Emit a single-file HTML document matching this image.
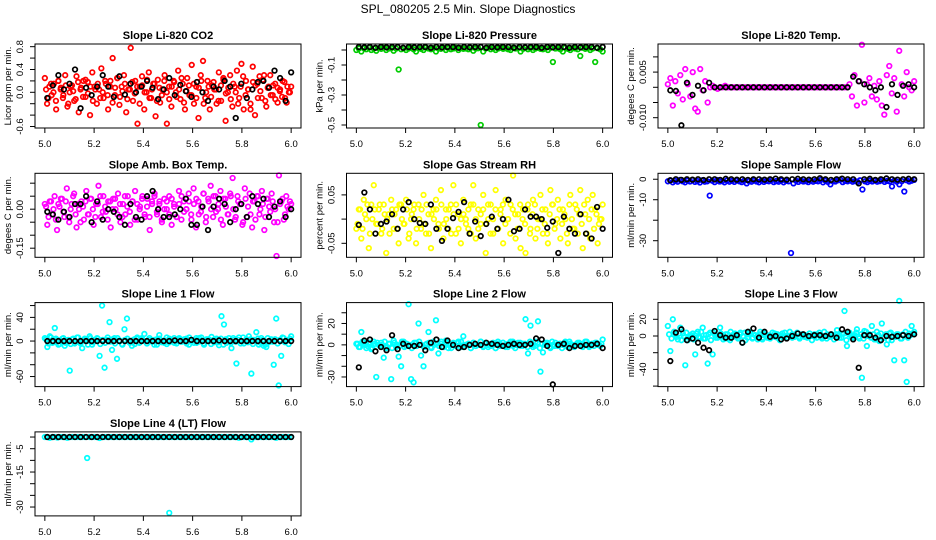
<!DOCTYPE html>
<html><head><meta charset="utf-8"><style>
html,body{margin:0;padding:0;background:#fff;}
svg{display:block;font-family:"Liberation Sans",sans-serif;}
</style></head><body>
<svg id="chart" width="936" height="540" viewBox="0 0 936 540">
<text x="468" y="13" text-anchor="middle" font-size="12">SPL_080205  2.5 Min. Slope Diagnostics</text>
</svg>
<script>
const xTicks=[5.0,5.2,5.4,5.6,5.8,6.0];
const xTickLabels=["5.0","5.2","5.4","5.6","5.8","6.0"];
const panelTitles=["Slope Li-820 CO2","Slope Li-820 Pressure","Slope Li-820 Temp.","Slope Amb. Box Temp.","Slope Gas Stream RH","Slope Sample Flow","Slope Line 1 Flow","Slope Line 2 Flow","Slope Line 3 Flow","Slope Line 4 (LT) Flow"];
const yTitles=["Licor ppm per min.","kPa per min.","degees C per min.","degees C per min.","percent per min.","ml/min per min.","ml/min per min.","ml/min per min.","ml/min per min.","ml/min per min."];
const p1Colored=[0.25,-0.2,0.1,-0.05,0.15,-0.3,0.2,0.05,-0.1,0.3,-0.25,0.0,0.12,-0.15,0.28,-0.35,0.08,0.2,-0.08,0.18,-0.4,0.35,0.1,-0.2,0.05,0.42,-0.1,0.15,-0.3,0.2,0.6,-0.05,0.25,-0.22,0.1,0.3,-0.35,0.05,0.78,-0.15,0.2,-0.55,0.1,0.28,-0.3,0.0,0.35,-0.1,0.15,-0.42,0.22,-0.18,0.05,0.3,-0.55,0.1,-0.25,0.2,0.0,0.38,-0.12,0.15,-0.3,0.25,-0.05,0.48,-0.2,0.1,-0.45,0.3,0.55,-0.1,0.2,-0.3,0.12,0.05,-0.2,0.35,-0.15,0.25,-0.5,0.0,0.3,-0.25,0.1,0.38,-0.1,0.5,-0.3,0.2,0.05,-0.2,0.45,-0.4,0.15,0.28,-0.1,0.3,-0.25,0.1,-0.05,0.12,-0.12,0.08,0.02,-0.08,0.18,-0.18,0.0,0.1];
const p1Colored2=[0.05,-0.1,0.15,0.0,-0.15,0.2,0.08,-0.05,0.12,-0.2,0.1,0.02,-0.12,0.18,0.05,-0.08,0.22,-0.02,0.1,-0.15,0.05,0.15,-0.1,0.0,0.2,-0.05,0.1,-0.18,0.08,0.25,-0.08,0.02,0.15,-0.12,0.05,0.18,-0.02,0.1,-0.2,0.12,0.0,0.22,-0.1,0.05,0.15,-0.15,0.08,-0.05,0.2,0.0,-0.12,0.1,0.18,-0.08,0.05,0.25,-0.18,0.02,0.12,-0.05,0.15,-0.1,0.08,0.2,-0.2,0.0,0.1,-0.08,0.18,0.05,-0.15,0.12,0.22,-0.02,0.08,-0.12,0.15,0.0,-0.2,0.1,0.28,-0.05,0.05,-0.3,0.18,0.12,-0.1,0.02,0.22,-0.15,0.08,0.3,-0.05,0.15,-0.18,0.05,0.2,-0.1,0.1,0.0];
const p1Black=[-0.1,0.12,0.3,0.05,0.15,0.4,-0.28,0.08,-0.05,0.1,0.3,0.1,-0.08,0.28,-0.04,0.15,0.0,0.1,0.2,0.08,-0.12,0.05,0.25,-0.05,0.13,0.02,-0.08,0.18,0.0,-0.15,0.1,0.05,0.2,0.1,-0.45,0.15,-0.1,0.05,0.18,0.2,0.08,0.38,0.25,-0.15,0.35];
const p2Colored=[0.0,0.01,-0.01,0.012,0.005,0.015,0.0,0.01,-0.005,0.012,0.008,0.015,0.0,0.01,0.012,-0.005,0.01,-0.13,0.005,0.012,0.0,0.01,0.015,0.005,-0.01,0.012,0.008,0.0,0.015,0.01,0.005,0.012,-0.01,0.01,0.008,0.015,0.0,0.012,0.005,0.01,0.015,0.0,0.012,0.008,0.01,0.005,0.015,-0.005,0.01,0.012,-0.5,-0.01,0.01,0.015,0.005,0.012,0.0,0.01,0.015,0.008,0.012,0.005,0.0,0.015,0.01,0.012,-0.01,0.008,0.015,0.005,0.012,0.0,0.01,0.015,0.008,0.005,0.012,0.0,0.015,-0.08,0.01,0.012,0.005,-0.01,0.015,0.008,0.0,0.012,0.01,0.005,-0.04,0.015,0.008,0.012,0.0,0.01,-0.08,0.012,0.005,-0.01];
const p2Black=[0.02,0.018,0.02,0.015,0.02,0.018,0.02,0.02,0.015,0.02,0.018,0.02,0.02,0.015,0.02,0.018,0.02,0.02,0.015,0.02,0.018,0.02,0.02,0.015,0.02,0.018,0.02,0.02,0.015,0.02,0.018,0.02,0.02,0.015,0.02,0.018,0.02,0.02,0.015,0.02,0.018,0.02,0.02,0.015,0.02];
const p3Colored=[0.001,0.003,-0.006,0.002,-0.002,0.004,-0.004,0.006,0.001,-0.003,0.005,-0.007,-0.008,0.006,-0.001,0.002,-0.005,0.0,0.0005,0.0,-0.0005,0.0,0.0,0.0005,0.0,0.0,0.0,0.0,0.0,0.0,0.0,0.0,0.0,0.0,0.0,0.0,0.0,0.0,0.0,0.0,0.0,0.0,0.0,0.0,0.0,0.0,0.0,0.0,0.0,0.0,0.0,0.0,0.0,0.0,0.0,0.0,0.0,0.0,0.0,0.0,0.0,0.0,0.0,0.0,0.0,0.0,0.0,0.0,0.0,0.0,0.0,0.0,0.0,0.001,-0.003,0.004,-0.006,0.002,0.014,-0.005,0.001,0.003,-0.003,0.0005,-0.004,0.002,-0.006,-0.009,0.004,0.007,-0.002,0.003,-0.008,0.012,0.001,-0.003,0.005,0.0,-0.001,0.002];
const p3Black=[-0.001,-0.0012,-0.0125,0.0015,-0.0025,0.0005,-0.001,0.0015,0,0,0,0,0,0,0,0,0,0,0,0,0,0,0,0,0,0,0,0,0,0,0,0,0,0.0035,0.002,0.001,0.0,-0.001,0.0,-0.0065,0.001,-0.0025,0.0005,0.001,0.0];
const p4Colored=[0.02,-0.06,0.03,-0.02,0.05,-0.08,0.01,0.04,-0.03,0.08,-0.05,0.02,0.06,-0.07,0.0,0.03,-0.04,0.07,-0.02,0.04,-0.06,0.02,0.09,-0.03,0.05,-0.01,0.03,-0.07,0.04,0.0,0.06,-0.05,0.02,-0.02,0.05,-0.06,0.03,0.07,-0.04,0.01,0.05,-0.03,0.04,-0.08,0.02,0.06,-0.02,0.03,-0.05,0.04,0.0,0.05,-0.06,0.02,-0.03,0.07,-0.04,0.03,0.0,0.06,-0.02,0.08,-0.07,0.03,-0.01,0.06,-0.05,0.04,0.09,-0.03,0.05,0.0,0.07,-0.06,0.04,-0.02,0.06,0.12,-0.04,0.05,0.02,-0.06,0.08,-0.03,0.06,-0.07,0.03,0.05,-0.02,0.07,-0.08,0.04,0.01,0.06,-0.05,-0.18,0.13,0.03,-0.04,0.05,0.0,0.02];
const p4Colored2=[0.01,-0.03,0.03,0.0,-0.04,0.02,0.04,-0.01,0.03,-0.03,0.0,0.05,-0.02,0.02,-0.05,0.01,0.03,-0.02,0.04,0.0,-0.03,0.02,0.05,-0.01,0.01,-0.04,0.03,0.0,0.04,-0.02,0.02,-0.03,0.05,0.01,-0.01,0.03,-0.04,0.02,0.0,0.04,-0.02,0.01,-0.03,0.03,0.05,-0.01,0.02,-0.04,0.0,0.03,-0.02,0.04,0.01,-0.03,0.02,0.05,-0.01,0.0,0.03,-0.04,0.02,0.04,-0.02,0.01,0.06,-0.03,0.03,0.0,0.05,-0.01,0.02,-0.04,0.04,0.01,-0.02,0.05,0.0,-0.03,0.03,0.02,-0.05,0.04,0.01,-0.02,0.03,-0.04,0.05,0.0,0.02,-0.03,0.04,-0.01,0.03,0.0,-0.05,0.02,0.04,-0.02,0.01,0.03];
const p4Black=[-0.01,-0.02,-0.04,-0.01,-0.03,0.02,0.02,0.05,-0.05,0.03,-0.04,0.0,-0.01,-0.03,-0.06,0.02,-0.03,-0.04,0.05,0.07,0.0,-0.03,-0.03,-0.02,0.0,0.04,-0.06,-0.06,0.01,-0.08,0.01,0.04,0.02,-0.05,0.0,0.02,-0.03,0.05,0.02,0.04,-0.03,0.01,0.03,-0.03,0.0];
const p5Colored=[-0.02,0.02,-0.04,0.04,0.0,-0.06,0.03,0.07,-0.01,0.02,-0.03,0.03,-0.07,0.01,0.04,-0.02,0.02,-0.05,0.03,-0.01,0.04,-0.04,0.0,0.02,-0.05,0.03,-0.02,0.05,-0.03,0.01,-0.06,0.02,0.04,-0.01,0.06,-0.04,0.02,-0.02,0.03,0.07,-0.03,0.01,-0.05,0.04,0.0,-0.02,0.03,0.07,-0.04,0.02,-0.01,0.05,-0.07,0.0,0.03,-0.03,0.06,-0.02,0.02,-0.05,0.04,0.0,0.03,0.09,-0.04,0.01,-0.06,0.02,-0.07,0.03,-0.02,0.04,-0.04,0.0,0.05,-0.03,0.02,-0.05,0.06,0.03,-0.01,0.04,-0.04,0.02,0.0,-0.05,0.05,-0.02,0.03,-0.03,0.06,-0.06,0.01,0.04,-0.04,0.05,0.02,-0.05,0.0,0.03];
const p5Colored2=[-0.01,0.02,-0.02,0.01,0.03,-0.03,0.0,0.02,-0.01,0.03,-0.02,0.01,0.0,-0.03,0.02,0.01,-0.02,0.03,0.0,-0.01,0.02,-0.03,0.01,0.03,-0.02,0.0,0.02,-0.01,0.03,-0.03,0.01,0.0,0.02,-0.02,0.03,-0.01,0.0,0.02,-0.03,0.01,0.03,-0.02,0.0,0.01,-0.01,0.02,-0.03,0.03,0.0,-0.02,0.01,0.02,-0.01,0.03,-0.03,0.0,0.02,-0.02,0.01,0.03,-0.01,0.0,-0.03,0.02,0.01,-0.02,0.03,0.0,-0.01,0.02,-0.03,0.01,0.03,-0.02,0.0,0.02,-0.01,-0.03,0.01,0.03,-0.02,0.0,0.02,-0.01,0.01,-0.03,0.03,0.0,-0.02,0.02,0.01,-0.01,0.03,-0.03,0.0,0.02,-0.02,0.01,-0.01,0.0];
const p5Black=[-0.012,0.055,0.02,-0.03,-0.01,-0.005,0.01,-0.02,0.02,0.035,0.0,-0.008,-0.01,0.03,-0.02,-0.045,-0.02,0.002,0.015,0.035,-0.03,-0.005,-0.035,-0.01,0.005,-0.02,0.0,0.04,-0.025,-0.02,0.02,0.005,0.005,0.0,-0.018,-0.005,-0.07,0.005,-0.02,-0.03,0.01,-0.03,-0.04,0.025,-0.02];
const p6Colored=[-1,-0.5,-1.5,-0.8,-1.2,-0.3,-1,-1.5,-0.6,-1.1,-0.4,-1.3,-0.9,-1.6,-0.5,-1.2,-1,-8,-0.7,-1.4,-0.4,-1.1,-0.9,-1.5,-0.6,-1.2,-0.8,-1.3,-0.5,-1,-1.4,-0.7,-2,-0.9,-1.2,-0.5,-1.1,-1.5,-0.6,-1.3,-0.8,-1,-0.4,-1.4,-0.9,-1.2,-0.6,-1.5,-0.8,-1,-36,-2,-0.7,-1.3,-0.5,-1.1,-0.9,-1.4,-0.6,-1.2,-0.8,-1,-0.4,-1.5,-0.7,-1.3,-2.5,-0.9,-1.1,-0.5,-0.2,-1.4,-0.8,-1,-0.6,-1.2,-0.9,-1.3,-0.5,-5,-1,-1.4,-0.7,-1.1,-0.6,-1.2,-0.9,-0.4,-1.3,-0.8,-1,-3.5,-0.6,-1.2,-2.5,-0.9,-6,-0.5,-1.1,-0.7,-0.3];
const p6Black=[-0.5,0,-0.3,0,-0.2,0,-0.4,0,0,-0.3,0.2,0,-0.2,0,-0.3,0,0,-0.2,0,0.3,0,-0.2,0,0.2,0,-0.2,0,0.5,0,-0.3,0,0.3,0,0,-2,0,0.2,-0.3,0,0.4,0,-0.2,0,0.2,0];
const p7Colored=[5,-10,8,-3,22,2,-5,4,-8,1,-50,3,-4,6,-2,-12,4,0,8,-6,2,5,-25,60,-45,2,32,-15,5,-30,1,-5,20,38,0,-8,3,4,-3,5,12,-4,2,0,-6,3,10,-2,1,-5,4,2,-3,0,5,-1,3,-4,6,0,2,-3,5,1,-6,3,0,7,-2,4,-7,42,28,-3,5,-12,2,-38,6,0,-4,3,8,-55,2,15,-6,5,-8,-10,-2,3,-40,38,-75,-25,5,0,-5,8];
const p7Colored2=[3,-4,6,-2,4,-6,0,5,-3,2,-5,4,-1,6,-4,1,3,-6,5,-2,0,4,-5,2,-3,6,-1,3,-4,5,0,-6,2,4,-3,1,-5,6,-2,3,0,-4,5,-1,2,-6,4,0,-3,6,-2,1,5,-4,3,-1,0,4,-6,2,-3,5,-1,6,-4,0,3,-5,2,1,-2,4,-6,3,0,-3,5,-1,2,-4,6,0,-2,3,-5,1,4,-3,2,-6,5,0,-1,3,-4,2,6,-2,1,4];
const p7Black=[0,0,0,0,0,0,0,0,0,0,0,0,0,0,0,0,0,0,0,0,0,0,0,1,0,0,2,0,0,0,0,1,0,0,0,0,0,0,0,0,0,0,0,0,0];
const p8Colored=[1,-2,12,2,-3,1,-4,3,-30,0,2,-12,-3,1,-32,4,-2,-11,-20,3,-1,38,-32,-35,2,20,-10,-20,0,12,-2,3,23,-8,1,-2,4,-3,0,2,-1,3,-2,8,0,1,-3,2,-1,0,3,-2,1,0,-1,2,-3,1,0,2,-2,1,3,-1,0,2,-1,1,24,-8,18,-2,3,22,-25,-7,2,1,-3,0,2,-1,1,0,3,-2,1,0,-1,2,1,-2,3,0,-1,1,2,0,-1,5];
const p8Colored2=[1,-2,3,0,-1,2,-3,1,2,-1,0,3,-2,1,-3,2,0,-1,3,-2,1,0,-3,2,-1,3,0,-2,1,2,-3,0,1,-1,3,-2,2,0,-3,1,-1,2,3,-2,0,1,-3,2,-1,0,3,-1,2,-2,1,0,-3,3,-1,2,0,-2,1,3,-3,0,2,-1,1,-2,3,0,-1,2,-3,1,0,2,-2,3,-1,0,1,-3,2,-1,3,0,-2,1,2,-1,0,3,-2,1,-1,2,0,1];
const p8Black=[-21,4,5,-6,-2,-5,9,-4,1,-1,-1,0,-5,2,5,-2,4,0,-3,-2,0,1,0,2,1,0,-1,0,1,0,0,1,6,5,-1,-37,0,1,-3,-1,-1,0,0,1,-3];
const p9Colored=[12,-18,20,2,-4,10,3,-35,-5,1,3,-22,5,-2,10,-3,-33,4,-22,1,-2,10,0,-3,2,-5,1,3,-1,2,-8,4,-2,5,-3,1,0,2,-4,3,-2,1,0,3,-2,1,-1,4,-2,0,2,-1,3,-1,0,1,-2,3,0,-1,2,1,-3,0,2,-1,1,0,7,-2,3,30,-12,4,-2,1,8,-3,-50,6,-12,2,12,-4,5,-6,15,-2,-10,3,-5,-29,2,42,-3,-29,-55,3,12,5];
const p9Colored2=[2,-3,5,-1,3,-5,0,4,-2,1,-4,3,-1,5,-3,1,2,-5,4,-2,0,3,-4,2,-3,5,-1,2,-3,4,0,-5,2,3,-2,1,-4,5,-2,2,0,-3,4,-1,2,-5,3,0,-2,5,-2,1,4,-3,2,-1,0,3,-5,2,-2,4,-1,5,-3,0,2,-4,2,1,-2,3,-5,2,0,-2,4,-1,2,-3,5,0,-2,2,-4,1,3,-2,2,-5,4,0,-1,2,-3,2,5,-2,1,3];
const p9Black=[-30,4,8,-5,-3,-8,-14,-17,6,1,-2,-2,1,-8,5,9,-2,5,-1,0,-4,-3,0,3,2,0,1,1,0,2,-2,8,5,-4,-38,1,1,-2,-5,0,-1,0,1,0,2];
const p10Colored=[0,0,-0.3,0,0,-0.2,0,0,0,-0.3,0,0,0,0,0,0,0,-9,0,0,0,0,-0.4,0,0,0,0,0,0,0,0,0,0,0,0,0,0,0,0,0,0,0,0,0,0,0,0,0,0,0,-32.5,0,0,0,0,0,0,0,0,0,0,0,0,0,0,0,0,0,0,0,0,0,0,0,0,0,0,0,-0.3,0,0,0,0,-1,0,0,0,0,0,0,0,0,0,-0.3,0,0,0,0,0,0];
const p10Black=[0,0,0,0,0,0,0,0,0,0,0,0,0,0,0,0,0,0,0,0,0,0,0,0,0,0,0,0,0,0,0,0,0,0,0,0,0,0,0,0,0,0,0,0,0];
const p1YTicks=[-0.6,-0.4,-0.2,0,0.2,0.4,0.6,0.8];const p1YLabels=[["-0.6",-0.6],["0.0",0],["0.4",0.4],["0.8",0.8]];
const p2YTicks=[0,-0.1,-0.2,-0.3,-0.4,-0.5];const p2YLabels=[["-0.1",-0.1],["-0.3",-0.3],["-0.5",-0.5]];
const p3YTicks=[0.01,0.005,0,-0.005,-0.01];const p3YLabels=[["0.005",0.005],["-0.010",-0.01]];
const p4YTicks=[0.1,0.05,0,-0.05,-0.1,-0.15];const p4YLabels=[["0.00",0],["-0.15",-0.15]];
const p5YTicks=[0.05,0,-0.05];const p5YLabels=[["0.05",0.05],["-0.05",-0.05]];
const p6YTicks=[0,-10,-20,-30];const p6YLabels=[["0",0],["-10",-10],["-30",-30]];
const p7YTicks=[60,40,20,0,-20,-40,-60];const p7YLabels=[["40",40],["0",0],["-60",-60]];
const p8YTicks=[30,20,10,0,-10,-20,-30];const p8YLabels=[["20",20],["0",0],["-30",-30]];
const p9YTicks=[20,0,-20,-40,-60];const p9YLabels=[["20",20],["0",0],["-40",-40]];
const p10YTicks=[0,-5,-10,-15,-20,-25,-30];const p10YLabels=[["-5",-5],["-15",-15],["-30",-30]];

const panels=[
 {c:p1Colored,c2:p1Colored2,b:p1Black,col:"#ff0000",y0:-0.626,y1:0.847,t:p1YTicks,l:p1YLabels},
 {c:p2Colored,c2:[],b:p2Black,col:"#00cc00",y0:-0.52,y1:0.04,t:p2YTicks,l:p2YLabels},
 {c:p3Colored,c2:[],b:p3Black,col:"#ff00ff",y0:-0.01339,y1:0.01424,t:p3YTicks,l:p3YLabels},
 {c:p4Colored,c2:p4Colored2,b:p4Black,col:"#ff00ff",y0:-0.185,y1:0.138,t:p4YTicks,l:p4YLabels},
 {c:p5Colored,c2:p5Colored2,b:p5Black,col:"#ffff00",y0:-0.0789,y1:0.0946,t:p5YTicks,l:p5YLabels},
 {c:p6Colored,c2:[],b:p6Black,col:"#0000ff",y0:-38.1,y1:2.9,t:p6YTicks,l:p6YLabels},
 {c:p7Colored,c2:p7Colored2,b:p7Black,col:"#00ffff",y0:-77,y1:65,t:p7YTicks,l:p7YLabels},
 {c:p8Colored,c2:p8Colored2,b:p8Black,col:"#00ffff",y0:-39,y1:39.5,t:p8YTicks,l:p8YLabels},
 {c:p9Colored,c2:p9Colored2,b:p9Black,col:"#00ffff",y0:-60.6,y1:40,t:p9YTicks,l:p9YLabels},
 {c:p10Colored,c2:[],b:p10Black,col:"#00ffff",y0:-33.8,y1:2.2,t:p10YTicks,l:p10YLabels}
];
const NS="http://www.w3.org/2000/svg";
const svg=document.getElementById("chart");
function mk(tag,attrs,parent){const e=document.createElementNS(NS,tag);for(const k in attrs)e.setAttribute(k,attrs[k]);parent.appendChild(e);return e;}
const XMIN=4.96,XMAX=6.04,BW=266,BH=84;
panels.forEach((p,i)=>{
 const col=i%3,row=Math.floor(i/3);
 const L=35+col*311.5,T=44+row*129.3;
 const g=mk("g",{},svg);
 
 
 const xs=v=>L+(v-XMIN)/(XMAX-XMIN)*BW;
 const ys=v=>T+(p.y1-v)/(p.y1-p.y0)*BH;
 const tt=mk("text",{x:L+BW/2,y:T-5,"text-anchor":"middle","font-size":"11","font-weight":"bold"},g);
 tt.textContent=panelTitles[i];
 
 
 const yt=mk("text",{transform:`translate(${L-24},${T+BH/2}) rotate(-90)`,"text-anchor":"middle","font-size":"9.5"},g);
 yt.textContent=yTitles[i];
 
 
 xTicks.forEach((v,k)=>{
  const x=xs(v);
  const tk=mk("line",{x1:x,x2:x,y1:T+BH,y2:T+BH+5,stroke:"#000","stroke-width":"1"},g);
  
  
  const tl=mk("text",{x:x,y:T+BH+19,"text-anchor":"middle","font-size":"9.5"},g);
  tl.textContent=xTickLabels[k];
  
  
 });
 p.t.forEach(v=>{
  const y=ys(v);
  const tk=mk("line",{x1:L-5,x2:L,y1:y,y2:y,stroke:"#000","stroke-width":"1"},g);
  
  
 });
 p.l.forEach(([s,v])=>{
  const tl=mk("text",{transform:`translate(${L-12},${ys(v)}) rotate(-90)`,"text-anchor":"middle","font-size":"9.5"},g);
  tl.textContent=s;
  
  
 });
 const n=p.c.length;
 p.c.forEach((v,k)=>{
  const c=mk("circle",{cx:xs(5+k/(n-1)),cy:ys(v),r:"2.3",fill:"none",stroke:p.col,"stroke-width":"1.7"},g);
  
  
 });
 const n2=p.c2.length;
 p.c2.forEach((v,k)=>{
  const c=mk("circle",{cx:xs(5+(k+0.5)/n2),cy:ys(v),r:"2.3",fill:"none",stroke:p.col,"stroke-width":"1.7"},g);
  
  
 });
 const m=p.b.length;
 p.b.forEach((v,k)=>{
  const c=mk("circle",{cx:xs(5.01+0.99*k/(m-1)),cy:ys(v),r:"2.3",fill:"none",stroke:"#000","stroke-width":"1.7"},g);
  
  
 });
 const box=mk("rect",{x:L,y:T,width:BW,height:BH,fill:"none",stroke:"#000","stroke-width":"1"},g);
 
 
});
</script>
</body></html>
